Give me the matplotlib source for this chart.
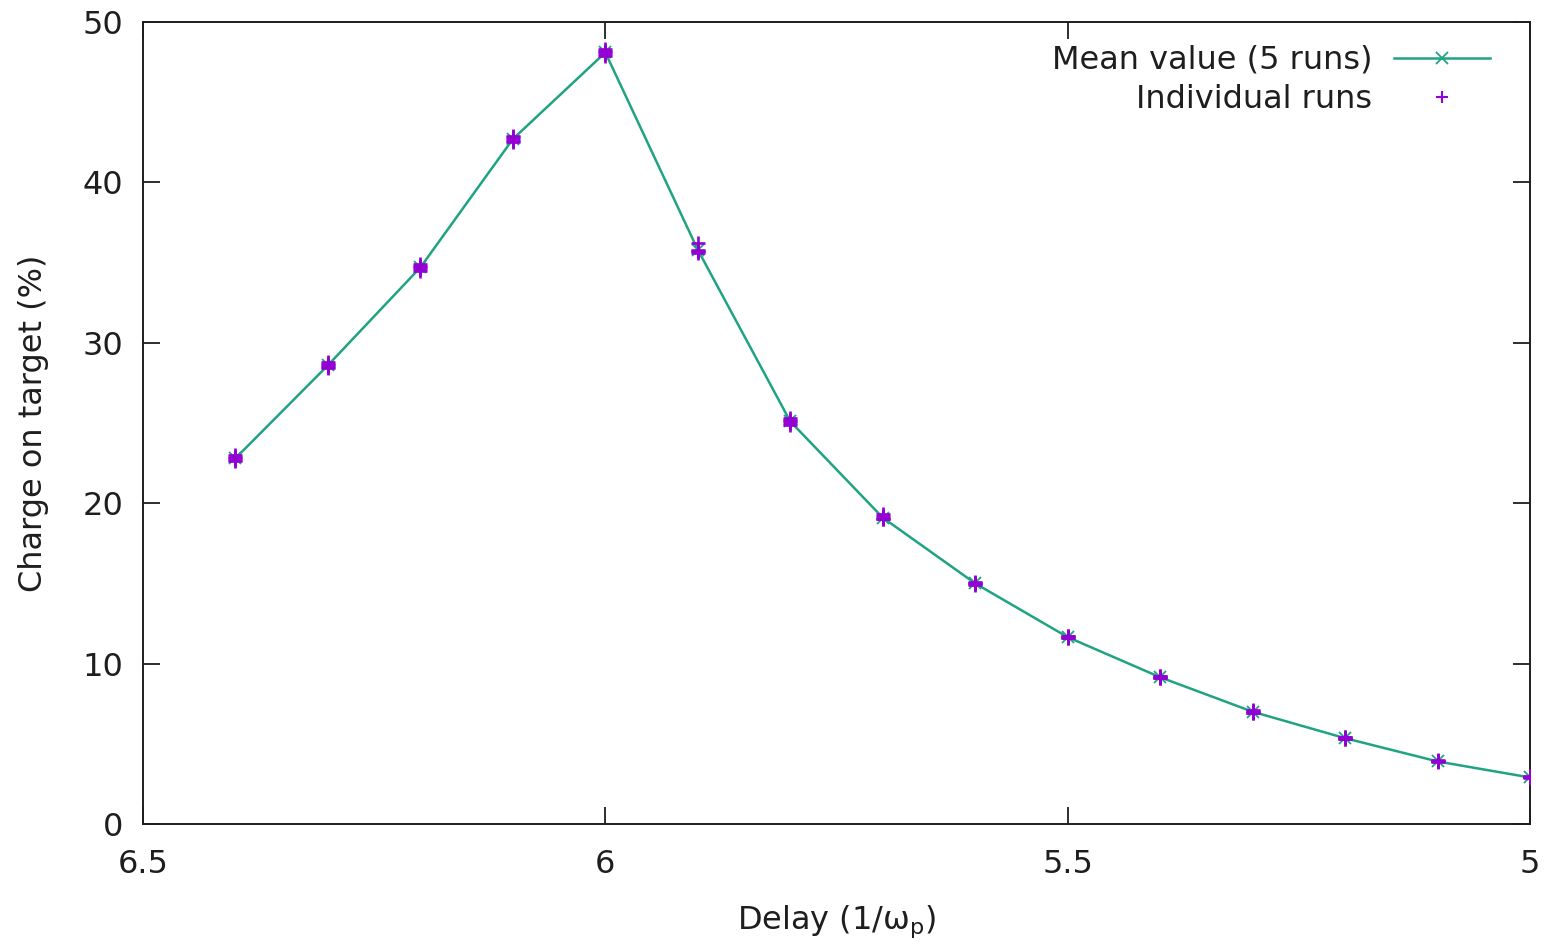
import matplotlib
matplotlib.use("Agg")
import matplotlib.pyplot as plt
from matplotlib.lines import Line2D

delay = [6.4, 6.3, 6.2, 6.1, 6.0, 5.9, 5.8, 5.7, 5.6, 5.5, 5.4, 5.3, 5.2, 5.1, 5.0]
mean_charge = [22.8, 28.6, 34.7, 42.7, 48.1, 35.8, 25.1, 19.1, 15.0, 11.65,
               9.15, 7.0, 5.35, 3.9, 2.9]

# five runs per delay
run_1 = [22.6, 28.4, 34.5, 42.6, 47.9, 35.6, 25.0, 19.0, 14.9, 11.6, 9.1, 6.9, 5.3, 3.85, 2.85]
run_2 = [22.8, 28.6, 34.7, 42.7, 48.1, 35.7, 25.1, 19.1, 15.0, 11.65, 9.15, 7.0, 5.35, 3.9, 2.9]
run_3 = [22.9, 28.7, 34.8, 42.8, 48.2, 35.8, 25.2, 19.2, 15.05, 11.7, 9.2, 7.05, 5.4, 3.95, 2.95]
run_4 = [23.0, 28.8, 34.9, 42.9, 48.3, 36.2, 25.3, 19.3, 15.1, 11.75, 9.25, 7.1, 5.45, 4.0, 3.0]
run_5 = [22.7, 28.5, 34.6, 42.5, 48.0, 35.7, 24.9, 19.0, 14.95, 11.6, 9.1, 6.95, 5.3, 3.9, 2.9]
runs = [run_1, run_2, run_3, run_4, run_5]

x_ticks = [6.5, 6.0, 5.5, 5.0]
x_tick_labels = ["6.5", "6", "5.5", "5"]
y_ticks = [0, 10, 20, 30, 40, 50]

plt.rcParams["font.family"] = ["DejaVu Sans"]
plt.rcParams["mathtext.fontset"] = "dejavusans"

fig = plt.figure(figsize=(15.48, 9.44), dpi=100)
ax = fig.add_axes([143 / 1548, 1 - 824 / 944, (1530 - 143) / 1548, (824 - 22) / 944])

teal = "#1fa383"
violet = "#9400d3"
ink = "#1e1e1e"
fs = 23

ax.plot(delay, mean_charge, color=teal, lw=1.8, marker="x", ms=9, mew=1.3, zorder=2)
for r in runs:
    ax.plot(delay, r, ls="none", marker="+", color=violet, ms=10, mew=1.9, zorder=3)

ax.set_xlim(6.5, 5.0)
ax.set_ylim(0, 50)
ax.set_xticks(x_ticks)
ax.set_xticklabels(x_tick_labels)
ax.set_yticks(y_ticks)
ax.tick_params(direction="in", length=12, width=1.3, top=True, right=True,
               labelsize=fs, colors=ink)
ax.tick_params(axis="x", pad=18)
ax.tick_params(axis="y", pad=14)
for s in ax.spines.values():
    s.set_linewidth(1.4)
    s.set_color(ink)

ax.set_xlabel("Delay (1/ω$_\\mathrm{p}$)", fontsize=fs, labelpad=17, color=ink)
ax.set_ylabel("Charge on target (%)", fontsize=fs, labelpad=24, color=ink)

handles = [
    Line2D([], [], color=teal, lw=1.8, marker="x", ms=9, mew=1.3),
    Line2D([], [], ls="none", color=violet, marker="+", ms=8, mew=1.5),
]
leg = ax.legend(handles, ["Mean value (5 runs)", "Individual runs"], loc="upper right",
                frameon=False, fontsize=fs, markerfirst=False, handlelength=3.0,
                handletextpad=0.7, labelspacing=0.26, borderaxespad=0.0,
                bbox_to_anchor=(1503 / 1548, 1 - 32 / 944), bbox_transform=fig.transFigure)
for t in leg.get_texts():
    t.set_ha("right")
    t.set_color(ink)
leg._legend_box.align = "right"

fig.savefig("out.png", dpi=100)
